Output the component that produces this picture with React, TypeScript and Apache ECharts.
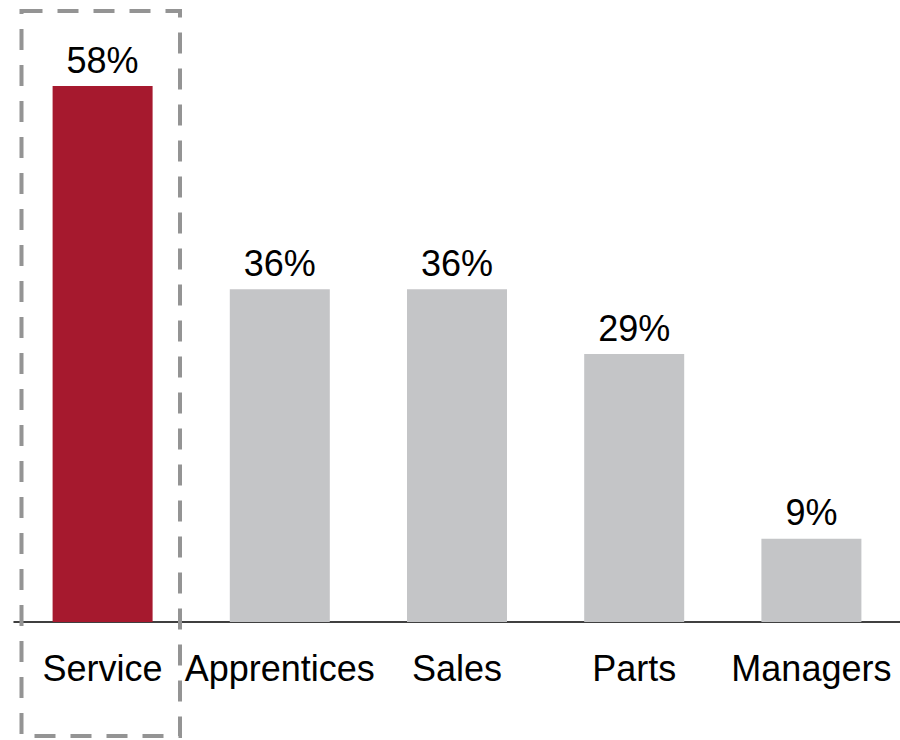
import React, { useEffect, useRef } from "react";
import * as echarts from "echarts";

const categories = ["Service", "Apprentices", "Sales", "Parts", "Managers"];
const values = [58, 36, 36, 29, 9];
const barColors = ["#A6192E", "#C4C5C7", "#C4C5C7", "#C4C5C7", "#C4C5C7"];

export default function App() {
  const ref = useRef<HTMLDivElement>(null);
  useEffect(() => {
    if (!ref.current) return;
    const chart = echarts.init(ref.current, null, { renderer: "svg" });
    chart.setOption({
      animation: false,
      grid: { left: 14, right: 0, top: 67.6, bottom: 118 },
      xAxis: {
        type: "category",
        data: categories,
        axisLine: { lineStyle: { color: "#000", width: 1.5 } },
        axisTick: { show: false },
        axisLabel: {
          color: "#000",
          fontFamily: "Liberation Sans, Arial, sans-serif",
          fontSize: 36,
          margin: 28,
          interval: 0,
        },
      },
      yAxis: {
        type: "value",
        min: 0,
        max: 60,
        show: false,
        splitLine: { show: false },
      },
      series: [
        {
          type: "bar",
          barWidth: 100,
          data: values.map((v, i) => ({ value: v, itemStyle: { color: barColors[i] } })),
          label: {
            show: true,
            position: "top",
            distance: 8,
            color: "#000",
            fontFamily: "Liberation Sans, Arial, sans-serif",
            fontSize: 36,
            formatter: (p: any) => p.value + "%",
          },
        },
      ],
      graphic: [
        {
          type: "rect",
          shape: { x: 21.5, y: 11, width: 158.5, height: 725 },
          style: {
            fill: "none",
            stroke: "#949494",
            lineWidth: 4,
            lineDash: [21, 15],
          },
          z: 10,
        },
      ],
    });
    return () => chart.dispose();
  }, []);
  return (
    <div
      ref={ref}
      style={{ position: "fixed", left: 0, top: 0, width: 900, height: 740, background: "#fff" }}
    />
  );
}
